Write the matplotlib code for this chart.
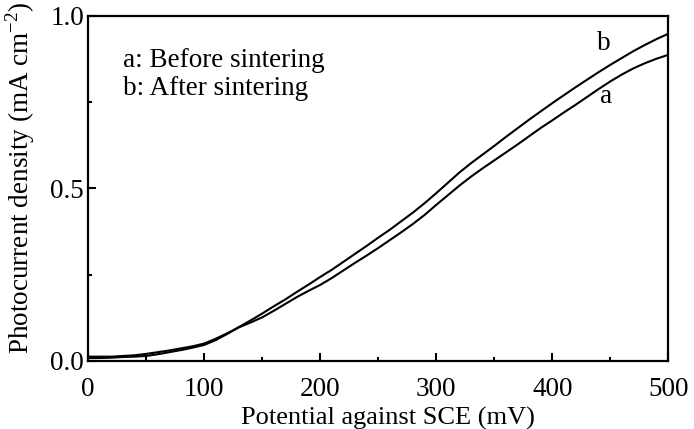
import matplotlib
matplotlib.use('Agg')
import matplotlib.pyplot as plt
from matplotlib.ticker import MultipleLocator

plt.rcParams['font.family'] = ['Liberation Serif', 'DejaVu Serif']
plt.rcParams['mathtext.fontset'] = 'custom'
plt.rcParams['mathtext.rm'] = 'Liberation Serif'

# potential (mV)
potential = list(range(0, 510, 10))

# a: before sintering (mA cm-2)
before = [0.012, 0.012, 0.012, 0.014, 0.016, 0.020, 0.025, 0.030, 0.036, 0.042,
          0.050, 0.064, 0.080, 0.097, 0.111, 0.126, 0.145, 0.165, 0.185, 0.203,
          0.220, 0.240, 0.262, 0.284, 0.305, 0.327, 0.350, 0.373, 0.397, 0.423,
          0.452, 0.480, 0.508, 0.534, 0.558, 0.581, 0.604, 0.627, 0.651, 0.675,
          0.697, 0.720, 0.742, 0.765, 0.788, 0.810, 0.830, 0.848, 0.863, 0.876,
          0.887]

# b: after sintering
after = [0.008, 0.008, 0.009, 0.011, 0.012, 0.014, 0.019, 0.025, 0.031, 0.038,
         0.046, 0.060, 0.078, 0.098, 0.117, 0.137, 0.158, 0.178, 0.200, 0.221,
         0.243, 0.264, 0.287, 0.310, 0.333, 0.357, 0.380, 0.405, 0.430, 0.457,
         0.486, 0.516, 0.546, 0.573, 0.598, 0.623, 0.649, 0.674, 0.699, 0.723,
         0.747, 0.770, 0.793, 0.815, 0.837, 0.858, 0.878, 0.898, 0.916, 0.933,
         0.948]

fig = plt.figure(figsize=(6.94, 4.29), dpi=100)
ax = fig.add_axes([0.127, 0.159, 0.836, 0.804])

ax.plot(potential, before, color='black', linewidth=1.5)
ax.plot(potential, after, color='black', linewidth=1.5)

ax.set_xlim(0, 500)
ax.set_ylim(0, 1.0)
ax.xaxis.set_major_locator(MultipleLocator(100))
ax.xaxis.set_minor_locator(MultipleLocator(50))
ax.yaxis.set_major_locator(MultipleLocator(0.5))
ax.yaxis.set_minor_locator(MultipleLocator(0.25))
ax.yaxis.set_major_formatter(lambda v, p: f'{v:.1f}')

for s in ax.spines.values():
    s.set_linewidth(1.6)
ax.tick_params(which='both', direction='in', width=1.5, labelsize=19.5)
ax.tick_params(which='major', length=6)
ax.tick_params(which='minor', length=3)
ax.tick_params(axis='x', pad=12)
ax.tick_params(axis='y', pad=3)

ax.set_xlabel('Potential against SCE (mV)', fontsize=19, va='top')
ax.xaxis.set_label_coords(0.517, -0.135)
ax.set_ylabel('Photocurrent density (mA cm$^{-2}$)', fontsize=19.5)
ax.yaxis.set_label_coords(-0.088, 0.53)

ax.text(30, 0.87, 'a: Before sintering', fontsize=19.5, va='center')
ax.text(30, 0.79, 'b: After sintering', fontsize=19.5, va='center')
ax.text(444, 0.92, 'b', fontsize=19.5, va='center', ha='center')
ax.text(446, 0.765, 'a', fontsize=19.5, va='center', ha='center')

fig.savefig('out.png', dpi=100)
